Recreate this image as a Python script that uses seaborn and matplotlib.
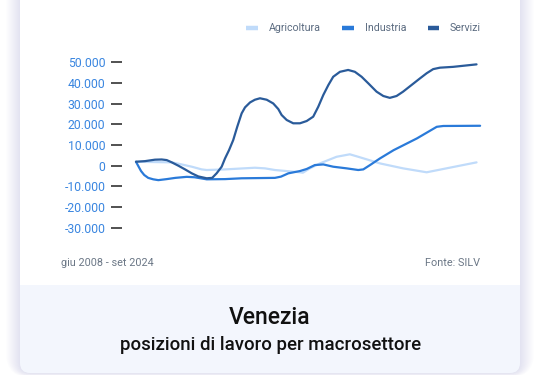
import matplotlib
matplotlib.use("Agg")
import matplotlib.pyplot as plt
from matplotlib.patches import FancyBboxPatch, Rectangle
import pandas as pd
import seaborn as sns

# ---------------- data ----------------
settori = ["Agricoltura", "Industria", "Servizi"]
colori = ["#c0dbfa", "#2a7ad9", "#2a5b9a"]

agricoltura_t = [2008.42, 2010.12, 2010.59, 2011.07, 2011.54, 2011.78, 2012.65,
                 2014.07, 2014.55, 2015.02, 2016.21, 2016.35, 2016.68, 2017.16,
                 2017.95, 2018.58, 2018.98, 2020.01, 2021.11, 2022.23, 2024.60]
agricoltura_v = [1900, 1600, 600, -500, -1800, -2100, -1800,
                 -1000, -1300, -2100, -3200, -3400, -1300, 1100,
                 4300, 5500, 4300, 1100, -1300, -3200, 1600]

industria_t = [2008.42, 2008.53, 2008.66, 2008.81, 2009.00, 2009.24, 2009.48,
               2009.88, 2010.29, 2010.83, 2011.20, 2011.78, 2012.65, 2013.44,
               2015.02, 2015.31, 2015.66, 2016.21, 2016.53, 2016.92, 2017.32,
               2017.79, 2018.43, 2018.98, 2019.22, 2019.54, 2020.01, 2020.66,
               2021.77, 2022.71, 2023.02, 2024.77]
industria_v = [1900, -200, -2600, -4500, -5900, -6600, -7000,
               -6500, -5900, -5400, -5600, -6600, -6500, -6100,
               -5900, -5300, -3700, -2600, -1600, 300, 600,
               -500, -1300, -2100, -1800, 300, 3500, 7500,
               13200, 18800, 19200, 19300]

servizi_t = [2008.42, 2008.85, 2009.32, 2009.64, 2009.88, 2010.12, 2010.43,
             2010.75, 2011.07, 2011.38, 2011.78, 2012.04, 2012.25, 2012.49,
             2012.65, 2012.84, 2013.04, 2013.23, 2013.44, 2013.60, 2013.84,
             2014.07, 2014.31, 2014.63, 2014.94, 2015.18, 2015.34, 2015.58,
             2015.89, 2016.21, 2016.53, 2016.84, 2017.08, 2017.32, 2017.56,
             2017.79, 2018.11, 2018.50, 2018.82, 2019.14, 2019.46, 2019.85,
             2020.17, 2020.48, 2020.80, 2021.11, 2021.51, 2021.91, 2022.23,
             2022.54, 2022.86, 2023.49, 2024.60]
servizi_v = [1900, 2200, 2900, 3000, 2700, 1600, 0,
             -1800, -3700, -5200, -6100, -5900, -3700, -500,
             3500, 7500, 12400, 18800, 25300, 28200, 30600,
             31900, 32600, 31900, 30100, 27400, 24500, 22100,
             20500, 20500, 21600, 23700, 28500, 34200, 39000,
             43000, 45400, 46300, 45400, 43000, 39800, 35800,
             33700, 32800, 33700, 35800, 39000, 42200, 44700,
             46700, 47400, 47800, 49000]

y_ticks = [-30000, -20000, -10000, 0, 10000, 20000, 30000, 40000, 50000]
y_tick_labels = ["-30.000", "-20.000", "-10.000", "0", "10.000",
                 "20.000", "30.000", "40.000", "50.000"]

periodo = "giu 2008 - set 2024"
fonte = "Fonte: SILV"
titolo = "Venezia"
sottotitolo = "posizioni di lavoro per macrosettore"

df = pd.concat([
    pd.DataFrame({"anno": agricoltura_t, "valore": agricoltura_v, "settore": "Agricoltura"}),
    pd.DataFrame({"anno": industria_t, "valore": industria_v, "settore": "Industria"}),
    pd.DataFrame({"anno": servizi_t, "valore": servizi_v, "settore": "Servizi"}),
], ignore_index=True)

# ---------------- figure ----------------
sns.set_theme(style="white")
plt.rcParams["font.family"] = ["Roboto", "DejaVu Sans"]

W, H = 5.41, 3.75
fig = plt.figure(figsize=(W, H), dpi=100)
fig.patch.set_facecolor("white")

def px(x):
    return x / 100.0

def rrect(x0, y0, x1, y1, color, r=0.1, z=-10, alpha=1.0):
    # pixel coordinates measured from top-left
    p = FancyBboxPatch((px(x0), H - px(y1)), px(x1 - x0), px(y1 - y0),
                       boxstyle=f"round,pad=0,rounding_size={r}",
                       transform=fig.dpi_scale_trans, facecolor=color,
                       edgecolor="none", zorder=z, alpha=alpha)
    fig.patches.append(p)

# shadow glow
for i in range(14, 0, -1):
    rrect(20 - i, -20, 520 + i, 373 + i * 0.3, "#7b6fd6", r=0.1 + i / 100, z=-20, alpha=0.010)
# card
rrect(20, -20, 520, 373, "#f3f6fd", z=-10)
rrect(20, -20, 520, 295, "white", z=-9)
fig.patches.append(Rectangle((px(20), H - px(295)), px(500), px(10),
                             transform=fig.dpi_scale_trans, facecolor="#f3f6fd",
                             edgecolor="none", zorder=-8))

ax = fig.add_axes([122 / 541, 1 - 235 / 375, (490 - 122) / 541, 180 / 375])
ax.set_facecolor("none")

sns.lineplot(data=df, x="anno", y="valore", hue="settore", hue_order=settori,
             palette=colori, linewidth=1.6, ax=ax, sort=True, estimator=None)
for ln in ax.get_lines():
    ln.set_solid_capstyle("round")
    ln.set_solid_joinstyle("round")

ax.set_xlim(2007.755, 2025.24)
ax.set_ylim(-33532, 53532)
ax.set_yticks(y_ticks)
ax.set_yticklabels(y_tick_labels)
ax.set_xticks([])
ax.set_xlabel("")
ax.set_ylabel("")
for s in ax.spines.values():
    s.set_visible(False)
ax.tick_params(axis="y", left=True, length=8, width=1.1, color="#222222",
               pad=4, labelsize=8.8, labelcolor="#3a86e0", direction="out")

sns.move_legend(ax, "center right", bbox_to_anchor=(481 / 541, 1 - 28.3 / 375),
                bbox_transform=fig.transFigure, ncol=3, frameon=False, title=None,
                fontsize=7.7, handlelength=1.1, handletextpad=1.0,
                columnspacing=2.0, borderaxespad=0, borderpad=0)
leg = ax.get_legend()
for h in leg.legend_handles:
    h.set_linewidth(3.2)
    h.set_solid_capstyle("butt")
for t in leg.get_texts():
    t.set_color("#5b6b80")

fig.text(61 / 541, 1 - 262.5 / 375, periodo, fontsize=7.8, color="#6b7786",
         ha="left", va="center")
fig.text(480 / 541, 1 - 262.5 / 375, fonte, fontsize=7.8, color="#6b7786",
         ha="right", va="center")
fig.text(270 / 541, 1 - 318 / 375, titolo, fontsize=16.5, color="#111111",
         ha="center", va="center", fontweight="medium")
fig.text(270.5 / 541, 1 - 345 / 375, sottotitolo, fontsize=13.4, color="#111111",
         ha="center", va="center", fontweight="medium")

fig.savefig("out.png", dpi=100, facecolor="white")
